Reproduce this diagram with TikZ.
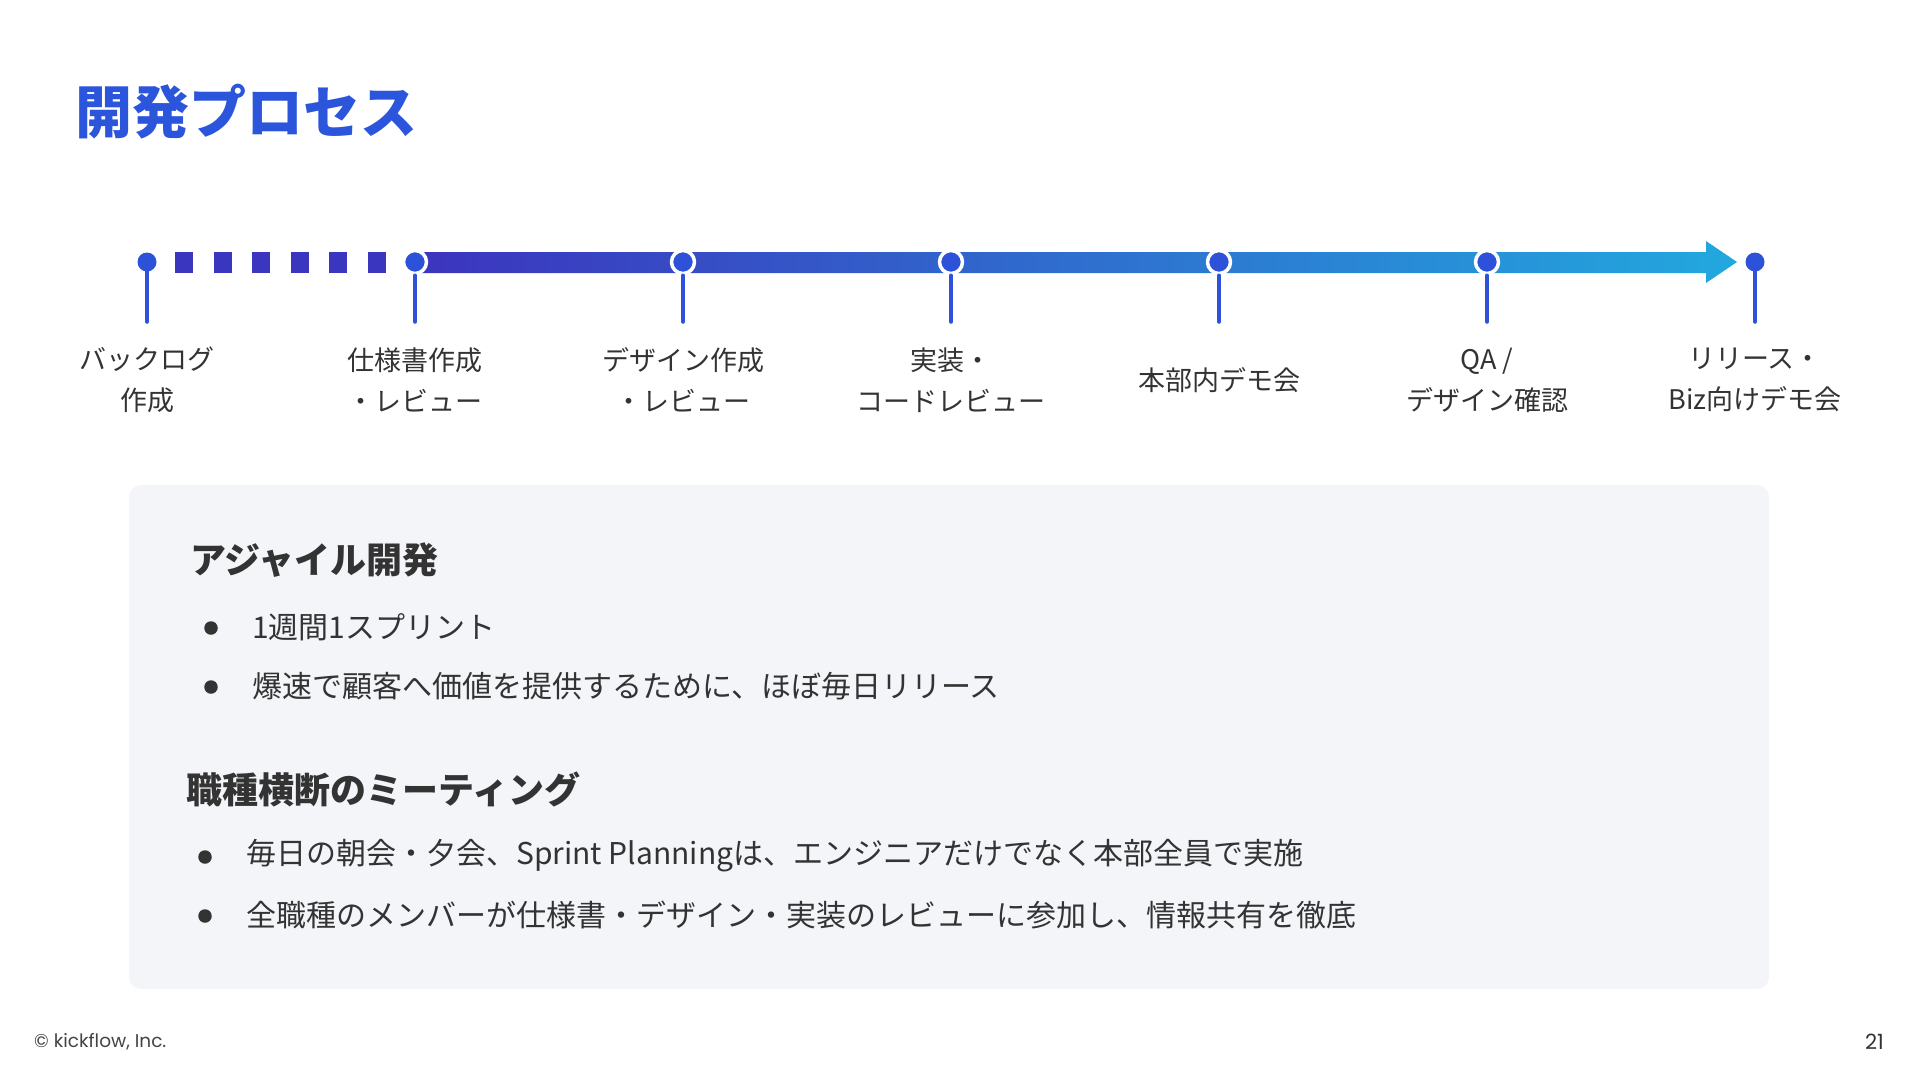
\documentclass[tikz,border=0pt]{standalone}
\usepackage{fontspec}
\setmainfont{Noto Sans CJK JP}
\newfontfamily\popfont{Poppins}
\usepackage{tikz}
\usetikzlibrary{positioning}

\definecolor{titleblue}{HTML}{2B55DB}
\definecolor{dotblue}{HTML}{2D52D9}
\definecolor{dashblue}{HTML}{3A36BF}
\definecolor{gradleft}{HTML}{3C34BE}
\definecolor{gradmid}{HTML}{2F5EDD}
\definecolor{gradright}{HTML}{22A8DE}
\definecolor{textgray}{HTML}{333333}
\definecolor{footgray}{HTML}{444444}
\definecolor{panel}{HTML}{F3F5F9}

\tikzset{
  milestone/.style={circle, fill=dotblue, inner sep=0pt, minimum size=19pt},
  ringed/.style={milestone, draw=white, line width=3.5pt, minimum size=23pt},
  stem/.style={dotblue, line width=3.5pt, line cap=round},
  steplabel/.style={align=center, text=textgray, inner sep=0pt,
    font=\fontsize{27}{41}\selectfont},
  heading/.style={anchor=west, inner sep=0pt, text=textgray,
    font=\bfseries\fontsize{36}{40}\selectfont},
  bodytext/.style={anchor=west, inner sep=0pt, text=textgray,
    font=\fontsize{30}{34}\selectfont},
  bulletdot/.style={circle, fill=textgray, inner sep=0pt, minimum size=13.5pt},
}

\begin{document}
\begin{tikzpicture}[x=1pt, y=-1pt, line join=round]
	\useasboundingbox (0,0) rectangle (1920,1080);
	
	\node[anchor=west, inner sep=0pt, text=titleblue,
	font=\bfseries\fontsize{57}{60}\selectfont] (title) at (75,112) {開発プロセス};
	
	% --- timeline ---
	\def\X{147}   % x of first milestone
	\def\D{268}   % spacing of milestones
	\def\Y{262}   % y of the line
	
	% dashed lead-in
	\foreach \k in {0,...,5}{
		\fill[dashblue] ({175+38.6*\k},252) rectangle +(18,21);
	}
	
	% gradient arrow
	\shade[left color=gradleft, middle color=gradmid, right color=gradright]
	(415,252) -- (1706,252) -- (1706,241) -- (1737,\Y)
	-- (1706,283) -- (1706,273) -- (415,273) -- cycle;
	
	% milestones
	\node[milestone] (m0) at (\X,\Y) {};
	\foreach \i in {1,...,5}{
		\node[ringed] (m\i) at ({\X+\D*\i},\Y) {};
	}
	\node[milestone] (m6) at ({\X+\D*6},\Y) {};
	
	\foreach \i in {0,...,6}{
		\coordinate (s\i) at ([yshift=-60pt]m\i.center);
		\draw[stem] (m\i.south) -- (s\i);
	}
	
	\foreach \i/\lbl in {0/{バックログ\\作成}, 1/{仕様書作成\\・レビュー},
		2/{デザイン作成\\・レビュー}, 3/{実装・\\コードレビュー},
		4/{本部内デモ会}, 5/{QA /\\デザイン確認},
		6/{リリース・\\Biz向けデモ会}}{
		\node[steplabel] (l\i) at ({\X+\D*\i},380) {\lbl};
	}
	
	% --- panel ---
	\fill[panel, rounded corners=12pt] (129,485) rectangle (1769,989);
	
	\node[heading] (h1) at (190,560) {アジャイル開発};
	\node[bulletdot] (b1) at (211,628) {};
	\node[bodytext] (t1) at (252,627) {1週間1スプリント};
	\node[bulletdot] (b2) at (211,687) {};
	\node[bodytext] (t2) at (252,686) {爆速で顧客へ価値を提供するために、ほぼ毎日リリース};
	
	\node[heading] (h2) at (186,789) {職種横断のミーティング};
	\node[bulletdot] (b3) at (205,857) {};
	\node[bodytext] (t3) at (246,856) {毎日の朝会・夕会、Sprint Planningは、エンジニアだけでなく本部全員で実施};
	\node[bulletdot] (b4) at (205,916) {};
	\node[bodytext] (t4) at (246,915) {全職種のメンバーが仕様書・デザイン・実装のレビューに参加し、情報共有を徹底};
	
	% --- footer ---
	\node[anchor=west, inner sep=0pt, text=footgray,
	font=\popfont\fontsize{18.5}{20}\selectfont] (copy) at (34,1042) {© kickflow, Inc.};
	\node[anchor=east, inner sep=0pt, text=textgray,
	font=\popfont\fontsize{21}{22}\selectfont] (page) at (1884,1042) {21};
\end{tikzpicture}
\end{document}
